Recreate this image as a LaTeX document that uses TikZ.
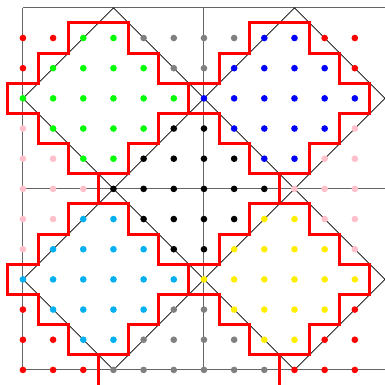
\documentclass[tikz,border=0pt]{standalone}
\definecolor{cR}{RGB}{255,0,0}
\definecolor{cG}{RGB}{0,255,0}
\definecolor{cY}{RGB}{128,128,128}
\definecolor{cB}{RGB}{0,0,255}
\definecolor{cP}{RGB}{255,192,203}
\definecolor{cK}{RGB}{0,0,0}
\definecolor{cC}{RGB}{0,176,240}
\definecolor{cL}{RGB}{255,238,0}
\definecolor{frameline}{RGB}{100,100,100}
\tikzset{
  frameln/.style={draw=frameline, line width=0.9pt},
  diamondln/.style={draw=black, line width=0.7pt},
  stairln/.style={draw=cR, line width=2.8pt, line join=miter},
}
\begin{document}
\begin{tikzpicture}[x=1cm,y=-1cm]
\useasboundingbox (-0.76,-1.26) rectangle (12,11.49);
\clip (-0.76,-1.26) rectangle (12,11.49);
% frame
\foreach \jj in {-1,5,11} \draw[frameln] (0,\jj) -- (12,\jj);
\foreach \ii in {0,6} \draw[frameln] (\ii,-1) -- (\ii,11);
% diamonds
\foreach \a/\b in {0/0,6/0,0/6,6/6}{
  \draw[diamondln] (\a+3,\b-1) -- (\a+6,\b+2) -- (\a+3,\b+5) -- (\a,\b+2) -- cycle;
}
% staircases
\foreach \a/\b in {0/0,6/0,0/6,6/6}{
  \begin{scope}[shift={(\a,\b)}]
  \draw[stairln] (1.5,-0.5) -- (3.5,-0.5) -- (3.5,0.5) -- (4.5,0.5) -- (4.5,1.5) -- (5.5,1.5)
    -- (5.5,2.5) -- (4.5,2.5) -- (4.5,3.5) -- (3.5,3.5) -- (3.5,4.5) -- (1.5,4.5)
    -- (1.5,3.5) -- (0.5,3.5) -- (0.5,2.5) -- (-0.5,2.5) -- (-0.5,1.5) -- (0.5,1.5)
    -- (0.5,0.5) -- (1.5,0.5) -- cycle;
  \draw[stairln] (2.5,4.5) -- (2.5,5.5);
  \end{scope}
}
% dots
\foreach \row [count=\j from 0] in {
  {cR,cR,cG,cG,cY,cY,cY,cY,cB,cB,cR,cR},
  {cR,cG,cG,cG,cG,cY,cY,cB,cB,cB,cB,cR},
  {cG,cG,cG,cG,cG,cG,cB,cB,cB,cB,cB,cB},
  {cP,cG,cG,cG,cG,cK,cK,cB,cB,cB,cB,cP},
  {cP,cP,cG,cG,cK,cK,cK,cK,cB,cB,cP,cP},
  {cP,cP,cP,cK,cK,cK,cK,cK,cK,cP,cP,cP},
  {cP,cP,cC,cC,cK,cK,cK,cK,cL,cL,cP,cP},
  {cP,cC,cC,cC,cC,cK,cK,cL,cL,cL,cL,cP},
  {cC,cC,cC,cC,cC,cC,cL,cL,cL,cL,cL,cL},
  {cR,cC,cC,cC,cC,cY,cY,cL,cL,cL,cL,cR},
  {cR,cR,cC,cC,cY,cY,cY,cY,cL,cL,cR,cR},
  {cR,cR,cR,cY,cY,cY,cY,cY,cY,cR,cR,cR}}{
  \foreach \c [count=\i from 0] in \row {
    \fill[\c] (\i,\j) circle[radius=0.11];
  }
}
\end{tikzpicture}
\end{document}
